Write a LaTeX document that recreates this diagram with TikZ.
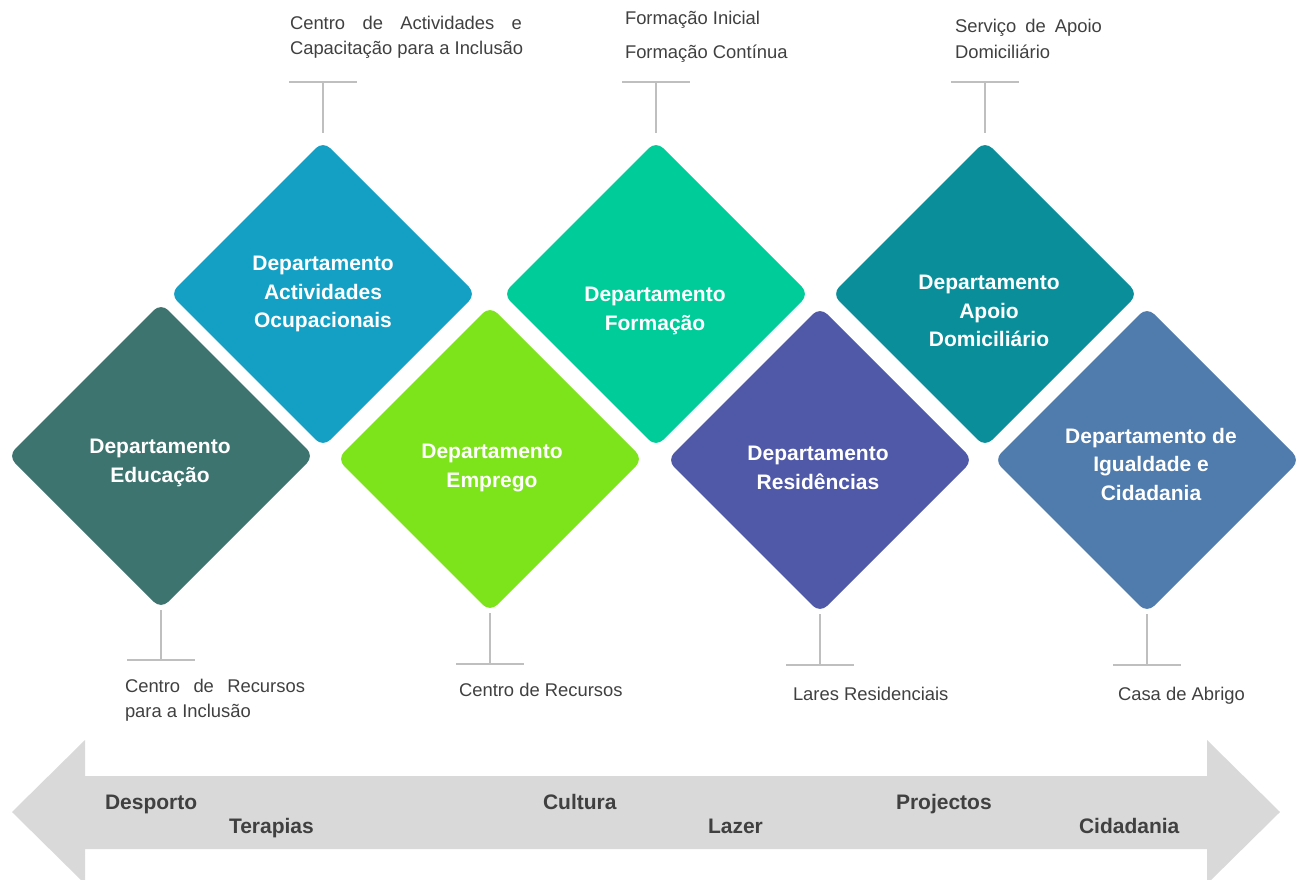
\documentclass[tikz,border=0pt]{standalone}
\usepackage{fontspec}
\setmainfont{Liberation Sans}
\usetikzlibrary{shapes.geometric}
\definecolor{edu}{HTML}{3D7470}
\definecolor{ocu}{HTML}{14A0C4}
\definecolor{emp}{HTML}{7DE31A}
\definecolor{form}{HTML}{00CC99}
\definecolor{resid}{HTML}{5058A8}
\definecolor{apoio}{HTML}{0A8F9A}
\definecolor{igual}{HTML}{4F7BAD}
\definecolor{txt}{HTML}{404040}
\definecolor{guide}{HTML}{BFBFBF}
\definecolor{band}{HTML}{D9D9D9}

\begin{document}
\begin{tikzpicture}[x=1pt,y=-1pt]
\tikzstyle{every node}=[inner sep=0pt, outer sep=0pt]
\tikzstyle{dept}=[diamond, aspect=1, minimum size=306pt, rounded corners=10pt]
\tikzstyle{dname}=[align=center, text=white, font=\fontsize{21}{28.5}\selectfont\bfseries]
\tikzstyle{item}=[anchor=base west, text=txt, font=\fontsize{18.4}{25}\selectfont]
\tikzstyle{word}=[anchor=base west, text=txt, font=\fontsize{21}{25}\selectfont\bfseries]
\tikzstyle{tick}=[draw=guide, line width=2pt]
\useasboundingbox (0,0) rectangle (1303,880);
\clip (0,0) rectangle (1303,880);
\fill[band] (12,812) -- (85,740) -- (85,776) -- (1207,776) -- (1207,740) -- (1280,812)
  -- (1207,884) -- (1207,849) -- (85,849) -- (85,884) -- cycle;
\draw (161,456) node (d1) [dept,fill=edu] {};
\draw (323,294) node (d2) [dept,fill=ocu] {};
\draw (490,459) node (d3) [dept,fill=emp] {};
\draw (656,294) node (d4) [dept,fill=form] {};
\draw (820,460) node (d5) [dept,fill=resid] {};
\draw (985,294) node (d6) [dept,fill=apoio] {};
\draw (1147,460) node (d7) [dept,fill=igual] {};
\draw (160,463) node (n1) [dname] {Departamento\\Educação};
\draw (323,294) node (n2) [dname] {Departamento\\Actividades\\Ocupacionais};
\draw (492,468) node (n3) [dname] {Departamento\\Emprego};
\draw (655,311) node (n4) [dname] {Departamento\\Formação};
\draw (818,468) node (n5) [dname] {Departamento\\Residências};
\draw (989,311) node (n6) [dname] {Departamento\\Apoio\\Domiciliário};
\draw (1151,464) node (n7) [dname] {Departamento de\\Igualdade e\\Cidadania};
\coordinate (t2) at (323,82);
\coordinate (t4) at (656,82);
\coordinate (t6) at (985,82);
\coordinate (b1) at (161,660);
\coordinate (b3) at (490,664);
\coordinate (b5) at (820,665);
\coordinate (b7) at (1147,665);
\draw[tick] ([yshift=8pt]d2.north) -- (t2) +(-34,0) -- +(34,0);
\draw[tick] ([yshift=8pt]d4.north) -- (t4) +(-34,0) -- +(34,0);
\draw[tick] ([yshift=8pt]d6.north) -- (t6) +(-34,0) -- +(34,0);
\draw[tick] ([yshift=-1pt]d1.south) -- (b1) +(-34,0) -- +(34,0);
\draw[tick] ([yshift=-1pt]d3.south) -- (b3) +(-34,0) -- +(34,0);
\draw[tick] ([yshift=-1pt]d5.south) -- (b5) +(-34,0) -- +(34,0);
\draw[tick] ([yshift=-1pt]d7.south) -- (b7) +(-34,0) -- +(34,0);
\draw (290,30) node (l2a) [item] {\makebox[232pt][s]{Centro de Actividades e}};
\draw (290,55) node (l2b) [item] {Capacitação para a Inclusão};
\draw (625,25) node (l4a) [item] {Formação Inicial};
\draw (625,59) node (l4b) [item] {Formação Contínua};
\draw (955,33) node (l6a) [item] {\makebox[147pt][s]{Serviço de Apoio}};
\draw (955,59) node (l6b) [item] {Domiciliário};
\draw (125,692) node (l1a) [item] {\makebox[180pt][s]{Centro de Recursos}};
\draw (125,717) node (l1b) [item] {para a Inclusão};
\draw (459,696) node (l3) [item] {Centro de Recursos};
\draw (793,700) node (l5) [item] {Lares Residenciais};
\draw (1118,700) node (l7) [item] {Casa de Abrigo};
\draw (105,809) node (w1) [word] {Desporto};
\draw (229,833) node (w2) [word] {Terapias};
\draw (543,809) node (w3) [word] {Cultura};
\draw (708,833) node (w4) [word] {Lazer};
\draw (896,809) node (w5) [word] {Projectos};
\draw (1079,833) node (w6) [word] {Cidadania};
\end{tikzpicture}
\end{document}
